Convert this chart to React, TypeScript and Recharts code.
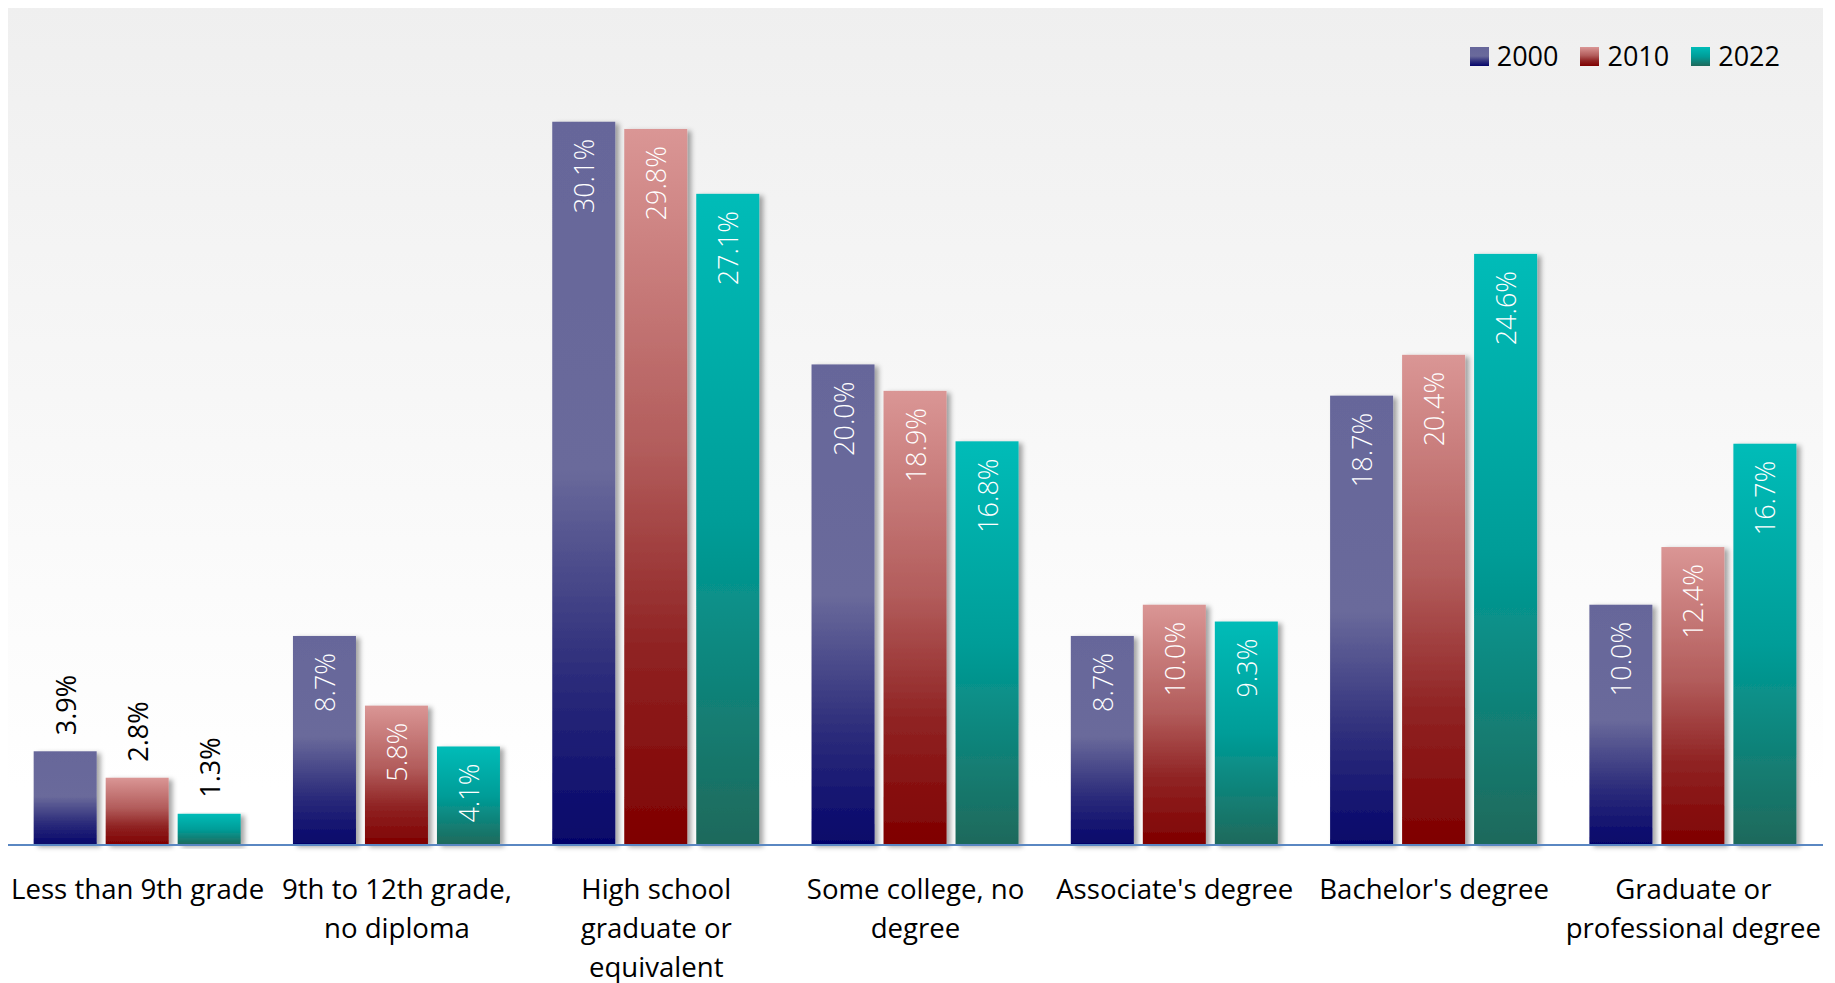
import React from "react"
import { BarChart, Bar, XAxis, YAxis, LabelList } from "recharts"

const categories = [
  "Less than 9th grade",
  "9th to 12th grade, no diploma",
  "High school graduate or equivalent",
  "Some college, no degree",
  "Associate's degree",
  "Bachelor's degree",
  "Graduate or professional degree",
]
// how each category name is broken over lines under the axis
const tickLines = [
  ["Less than 9th grade"],
  ["9th to 12th grade,", "no diploma"],
  ["High school", "graduate or", "equivalent"],
  ["Some college, no", "degree"],
  ["Associate's degree"],
  ["Bachelor's degree"],
  ["Graduate or", "professional degree"],
]
const years = ["2000", "2010", "2022"]
const values2000 = [3.9, 8.7, 30.1, 20.0, 8.7, 18.7, 10.0]
const values2010 = [2.8, 5.8, 29.8, 18.9, 10.0, 20.4, 12.4]
const values2022 = [1.3, 4.1, 27.1, 16.8, 9.3, 24.6, 16.7]

const data = categories.map((name, i) => ({
  name,
  y2000: values2000[i],
  y2010: values2010[i],
  y2022: values2022[i],
}))

const FONT = '"Open Sans", "Noto Sans", sans-serif'

// gradient stops per series (top -> bottom)
const gradients: Record<string, [number, string][]> = {
  "2000": [[0, "#66669a"], [0.48, "#6a6a9b"], [0.75, "#2f2f7c"], [1, "#05056a"]],
  "2010": [[0, "#da9695"], [0.45, "#b25c5b"], [0.72, "#902424"], [1, "#7f0000"]],
  "2022": [[0, "#00bcb8"], [0.5, "#009d98"], [1, "#1f695b"]],
}

const cssGradient = (year: string) =>
  `linear-gradient(to bottom, ${gradients[year].map(([o, c]) => `${c} ${o * 100}%`).join(", ")})`

const CategoryTick = (props: any) => {
  const { x, y, payload } = props
  const lines = tickLines[payload.index] || [payload.value]
  return (
    <text x={x} y={y} textAnchor="middle" fontSize={27.6} fill="#000" fontFamily={FONT}>
      {lines.map((l: string, i: number) => (
        <tspan key={i} x={x} dy={i === 0 ? 54 : 39}>
          {l}
        </tspan>
      ))}
    </text>
  )
}

const BarLabel = (props: any) => {
  const { x, y, width, value, index } = props
  const cx = x + width / 2
  const txt = `${Number(value).toFixed(1)}%`
  if (index === 0) {
    const ay = y - 16
    return (
      <text x={cx} y={ay} transform={`rotate(-90 ${cx} ${ay})`} textAnchor="start"
        dominantBaseline="central" fontSize={27} fill="#000" fontFamily={FONT}>
        {txt}
      </text>
    )
  }
  const ay = y + 17
  return (
    <text x={cx} y={ay} transform={`rotate(-90 ${cx} ${ay})`} textAnchor="end"
      dominantBaseline="central" fontSize={27} fill="#fff" fontFamily={FONT} fontWeight={300}>
      {txt}
    </text>
  )
}

const ShadowBar = (p: any) => (
  <rect x={p.x} y={p.y} width={p.width} height={p.height} fill={p.fill} filter="url(#barShadow)" />
)

export default function App() {
  return (
    <div
      style={{
        position: "relative",
        width: 1815,
        height: 979,
        marginTop: -4,
        background: "linear-gradient(to bottom, #efefef 0%, #ffffff 80%)",
        fontFamily: FONT,
      }}
    >
      <BarChart
        width={1815}
        height={979}
        data={data}
        margin={{ top: 0, right: 0, bottom: 0, left: 0 }}
        barCategoryGap="9.9%"
        barGap={9}
      >
        <defs>
          {years.map((yr) => (
            <linearGradient key={yr} id={`grad${yr}`} x1="0" y1="0" x2="0" y2="1">
              {gradients[yr].map(([o, c], i) => (
                <stop key={i} offset={o} stopColor={c} />
              ))}
            </linearGradient>
          ))}
          <filter id="barShadow" x="-20%" y="-5%" width="150%" height="115%">
            <feDropShadow dx="4" dy="2" stdDeviation="2.5" floodColor="#000" floodOpacity="0.35" />
          </filter>
        </defs>
        <XAxis
          dataKey="name"
          height={138}
          interval={0}
          tickLine={false}
          tickSize={0}
          tickMargin={0}
          axisLine={{ stroke: "#5a87c2", strokeWidth: 2 }}
          tick={<CategoryTick />}
        />
        <YAxis hide domain={[0, 35]} />
        {years.map((yr) => (
          <Bar key={yr} dataKey={`y${yr}`} name={yr} fill={`url(#grad${yr})`}
            shape={ShadowBar} isAnimationActive={false}>
            <LabelList dataKey={`y${yr}`} content={<BarLabel />} />
          </Bar>
        ))}
      </BarChart>
      <div
        style={{
          position: "absolute",
          top: 37,
          right: 43,
          display: "flex",
          alignItems: "center",
          fontSize: 27,
          lineHeight: "30px",
          color: "#000",
        }}
      >
        {years.map((yr, i) => (
          <div key={yr} style={{ display: "flex", alignItems: "center", marginLeft: i === 0 ? 0 : 22 }}>
            <span style={{ width: 19, height: 19, background: cssGradient(yr), marginRight: 8 }} />
            <span>{yr}</span>
          </div>
        ))}
      </div>
    </div>
  )
}
